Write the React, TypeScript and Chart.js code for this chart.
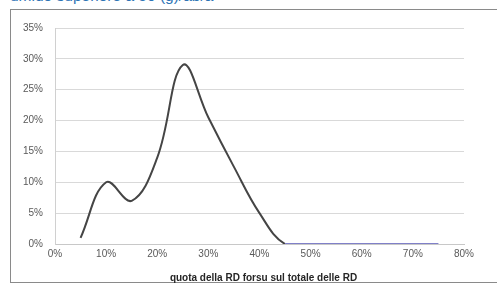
import React, { useEffect, useRef } from 'react';
import { Chart, registerables } from 'chart.js';

Chart.register(...registerables);

const shareX: number[] = [5, 10, 15, 20, 25, 30, 35, 40, 45, 50, 55, 60, 65, 70, 75];
const densityY: number[] = [1, 10, 7, 14, 29, 20.5, 12.5, 5, 0, 0, 0, 0, 0, 0, 0];
const xAxisTitle = 'quota della RD forsu sul totale delle RD';
const headerText = 'umido superiore a 50 (g)/ab/a';

export default function App() {
  const ref = useRef<HTMLCanvasElement | null>(null);

  useEffect(() => {
    if (!ref.current) return;
    const chart = new Chart(ref.current, {
      type: 'line',
      data: {
        datasets: [
          {
            data: shareX.map((x, i) => ({ x, y: densityY[i] })),
            borderColor: '#454545',
            borderWidth: 2,
            pointRadius: 0,
            fill: false,
            tension: 0.4,
            segment: {
              borderColor: (ctx: any) => (ctx.p0.parsed.x >= 45 ? '#8080c8' : '#454545'),
            },
          },
        ],
      },
      options: {
        animation: false,
        responsive: false,
        maintainAspectRatio: false,
        layout: { padding: { left: 0, right: 33, top: 19, bottom: 0 } },
        plugins: { legend: { display: false }, tooltip: { enabled: false } },
        scales: {
          x: {
            type: 'linear',
            min: 0,
            max: 80,
            afterFit: (s: any) => { s.height = 41; },
            ticks: {
              stepSize: 10,
              padding: 4,
              maxRotation: 0,
              color: '#595959',
              font: { family: 'Liberation Sans', size: 10 },
              callback: (v: any) => v + '%',
            },
            grid: { display: false, drawTicks: false },
            border: { display: true, color: '#c8c8c8' },
          },
          y: {
            min: 0,
            max: 35,
            afterFit: (s: any) => { s.width = 45; },
            ticks: {
              stepSize: 5,
              padding: 12,
              color: '#595959',
              font: { family: 'Liberation Sans', size: 10 },
              callback: (v: any) => v + '%',
            },
            grid: { color: '#d9d9d9', drawTicks: false },
            border: { display: true, color: '#d0d0d0' },
          },
        },
      },
    });
    return () => chart.destroy();
  }, []);

  return (
    <div style={{ position: 'fixed', left: 0, top: 0, width: 497, height: 285, overflow: 'hidden', background: '#fff' }}>
      <div
        style={{
          position: 'absolute', left: 10, top: -13, whiteSpace: 'nowrap',
          fontFamily: 'Liberation Sans, sans-serif', fontSize: 15.5, color: '#2E74B5',
        }}
      >
        {headerText}
      </div>
      <div
        style={{
          position: 'absolute', left: 10, top: 9, width: 520, height: 274,
          border: '1px solid #8a8a8a', boxSizing: 'border-box',
        }}
      />
      <canvas
        ref={ref}
        width={487}
        height={276}
        style={{ position: 'absolute', left: 10, top: 9, width: 487, height: 276 }}
      />
      <div
        style={{
          position: 'absolute', left: 10, width: 507, top: 272, textAlign: 'center',
          fontFamily: 'Liberation Sans, sans-serif', fontSize: 10, fontWeight: 'bold', color: '#262626',
        }}
      >
        {xAxisTitle}
      </div>
    </div>
  );
}
